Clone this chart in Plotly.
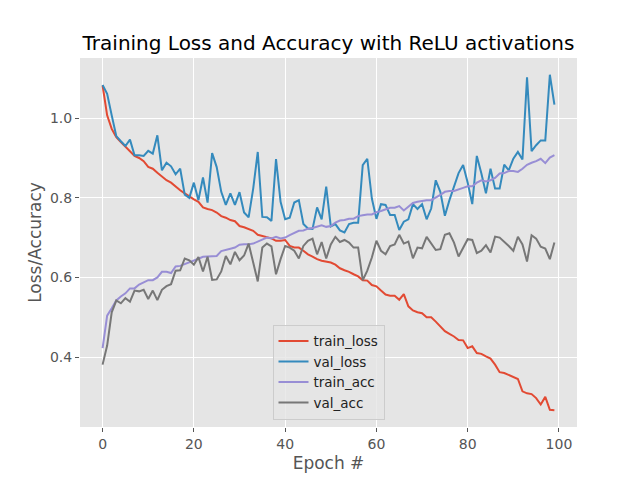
import plotly.graph_objects as go

# values
epochs = list(range(100))

train_loss = [1.082, 1.007, 0.973, 0.9525, 0.94, 0.9275, 0.915, 0.905, 0.90, 0.892,
              0.8775, 0.873, 0.863, 0.8525, 0.844, 0.838, 0.8275, 0.819, 0.811, 0.8025,
              0.796, 0.79, 0.776, 0.772, 0.769, 0.763, 0.754, 0.75, 0.744, 0.741,
              0.729, 0.726, 0.722, 0.717, 0.707, 0.704, 0.70, 0.698, 0.692, 0.692,
              0.694, 0.679, 0.675, 0.675, 0.667, 0.658, 0.6525, 0.646, 0.642, 0.639,
              0.6375, 0.632, 0.623, 0.618, 0.614, 0.608, 0.6025, 0.593, 0.592, 0.581,
              0.5775, 0.567, 0.557, 0.554, 0.554, 0.544, 0.558, 0.5275, 0.517, 0.5125,
              0.51, 0.50, 0.50, 0.489, 0.4775, 0.465, 0.458, 0.4517, 0.443, 0.442,
              0.4225, 0.427, 0.41, 0.408, 0.4017, 0.396, 0.381, 0.362, 0.36, 0.355,
              0.35, 0.345, 0.314, 0.309, 0.307, 0.297, 0.281, 0.30, 0.2675, 0.2665]

val_loss = [1.083, 1.061, 1.007, 0.955, 0.942, 0.93, 0.946, 0.907, 0.907, 0.905,
            0.918, 0.911, 0.957, 0.869, 0.888, 0.879, 0.859, 0.873, 0.808, 0.80,
            0.838, 0.794, 0.851, 0.788, 0.912, 0.877, 0.815, 0.782, 0.811, 0.782,
            0.814, 0.763, 0.751, 0.823, 0.915, 0.752, 0.751, 0.742, 0.897, 0.79,
            0.746, 0.75, 0.788, 0.794, 0.734, 0.723, 0.722, 0.776, 0.746, 0.828,
            0.728, 0.734, 0.718, 0.713, 0.734, 0.737, 0.737, 0.882, 0.898, 0.798,
            0.747, 0.784, 0.782, 0.757, 0.757, 0.719, 0.74, 0.746, 0.784, 0.772,
            0.784, 0.746, 0.773, 0.844, 0.815, 0.755, 0.794, 0.829, 0.862, 0.882,
            0.838, 0.784, 0.905, 0.861, 0.811, 0.873, 0.823, 0.823, 0.883, 0.869,
            0.898, 0.915, 0.896, 1.1025, 0.917, 0.932, 0.944, 0.944, 1.109, 1.034]

train_acc = [0.4225, 0.504, 0.5225, 0.542, 0.552, 0.56, 0.5725, 0.5725, 0.582, 0.5875,
             0.593, 0.593, 0.60, 0.614, 0.614, 0.611, 0.6275, 0.629, 0.633, 0.638,
             0.6425, 0.647, 0.652, 0.653, 0.654, 0.654, 0.666, 0.67, 0.672, 0.675,
             0.682, 0.683, 0.683, 0.685, 0.69, 0.694, 0.70, 0.698, 0.702, 0.698,
             0.70, 0.706, 0.7125, 0.717, 0.718, 0.7225, 0.724, 0.7275, 0.731, 0.727,
             0.729, 0.7375, 0.743, 0.744, 0.7475, 0.7475, 0.754, 0.756, 0.758, 0.758,
             0.764, 0.767, 0.771, 0.775, 0.775, 0.779, 0.768, 0.777, 0.787, 0.79,
             0.7925, 0.794, 0.794, 0.80, 0.807, 0.815, 0.817, 0.817, 0.822, 0.825,
             0.829, 0.829, 0.838, 0.844, 0.841, 0.844, 0.85, 0.861, 0.862, 0.867,
             0.867, 0.865, 0.873, 0.883, 0.888, 0.892, 0.898, 0.887, 0.901, 0.907]

val_acc = [0.381, 0.429, 0.5125, 0.542, 0.535, 0.548, 0.539, 0.567, 0.565, 0.569,
           0.546, 0.567, 0.543, 0.569, 0.578, 0.583, 0.617, 0.618, 0.6475, 0.643,
           0.632, 0.651, 0.615, 0.652, 0.594, 0.595, 0.615, 0.654, 0.633, 0.664,
           0.643, 0.655, 0.685, 0.641, 0.59, 0.675, 0.685, 0.678, 0.608, 0.646,
           0.679, 0.675, 0.667, 0.6475, 0.679, 0.692, 0.6975, 0.658, 0.689, 0.6475,
           0.683, 0.702, 0.689, 0.694, 0.6875, 0.675, 0.675, 0.593, 0.617, 0.65,
           0.692, 0.667, 0.658, 0.679, 0.683, 0.707, 0.685, 0.69, 0.648, 0.675,
           0.673, 0.702, 0.685, 0.669, 0.671, 0.707, 0.711, 0.6875, 0.6525, 0.675,
           0.696, 0.694, 0.661, 0.667, 0.681, 0.6625, 0.7025, 0.70, 0.69, 0.679,
           0.667, 0.702, 0.683, 0.64, 0.706, 0.6975, 0.677, 0.6725, 0.646, 0.6875]

series = [("train_loss", train_loss, "#E24A33"),
          ("val_loss", val_loss, "#348ABD"),
          ("train_acc", train_acc, "#988ED5"),
          ("val_acc", val_acc, "#777777")]

fig = go.Figure()
for name, vals, col in series:
    fig.add_trace(go.Scatter(x=epochs, y=vals, name=name, mode="lines",
                             line=dict(color=col, width=2)))

font = "DejaVu Sans"
# page body adds an 8px offset, so margins are shifted to compensate
fig.update_layout(
    width=640, height=480,
    margin=dict(l=72, r=71, t=50, b=61),
    paper_bgcolor="white",
    plot_bgcolor="#E5E5E5",
    font=dict(family=font, color="#555555"),
    title=dict(text="Training Loss and Accuracy with ReLU activations",
               font=dict(family=font, size=20, color="black"),
               x=0.5, xref="paper", xanchor="center",
               y=0.927, yanchor="middle"),
    legend=dict(x=0.5, xanchor="center", y=0.02, yanchor="bottom",
                bgcolor="rgba(229,229,229,0.8)", bordercolor="#CCCCCC", borderwidth=1,
                font=dict(family=font, size=13.5, color="#222222")),
)
fig.update_xaxes(range=[-4.95, 103.95], tickvals=[0, 20, 40, 60, 80, 100],
                 showgrid=True, gridcolor="white", gridwidth=1, zeroline=False,
                 ticks="outside", ticklen=4, tickcolor="#555555",
                 tickfont=dict(size=14, color="#555555"),
                 title=dict(text="Epoch #", font=dict(size=17, color="#555555"), standoff=6))
fig.update_yaxes(range=[0.2244, 1.151], tickvals=[0.4, 0.6, 0.8, 1.0], tickformat=".1f",
                 showgrid=True, gridcolor="white", gridwidth=1, zeroline=False,
                 ticks="outside", ticklen=4, tickcolor="#555555",
                 tickfont=dict(size=14, color="#555555"),
                 title=dict(text="Loss/Accuracy", font=dict(size=17, color="#555555"), standoff=3))

fig.write_html("out.html")
